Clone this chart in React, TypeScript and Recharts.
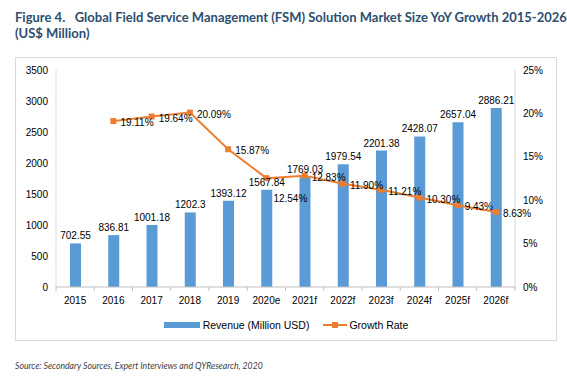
import React from 'react';
import { ComposedChart, Bar, Line, XAxis, YAxis, Legend, LabelList } from 'recharts';

const years = ['2015', '2016', '2017', '2018', '2019', '2020e', '2021f', '2022f', '2023f', '2024f', '2025f', '2026f'];
const revenue = [702.55, 836.81, 1001.18, 1202.3, 1393.12, 1567.84, 1769.03, 1979.54, 2201.38, 2428.07, 2657.04, 2886.21];
const growth = [null, 19.11, 19.64, 20.09, 15.87, 12.54, 12.83, 11.9, 11.21, 10.3, 9.43, 8.63];
const leftTicks = [0, 500, 1000, 1500, 2000, 2500, 3000, 3500];
const rightTicks = [0, 5, 10, 15, 20, 25];

const data = years.map((year, i) => ({ year, revenue: revenue[i], growth: growth[i] }));

const BLUE = '#5b9bd5';
const ORANGE = '#ed7d31';
const FONT = '"Liberation Sans", Arial, sans-serif';

function XTick(props: any) {
  const { x, y, payload, index, visibleTicksCount } = props;
  const half = payload.offset || 0;
  return (
    <g>
      <line x1={x - half} x2={x - half} y1={y - 8} y2={y - 4} stroke="#bfbfbf" />
      {index === visibleTicksCount - 1 && (
        <line x1={x + half} x2={x + half} y1={y - 8} y2={y - 4} stroke="#bfbfbf" />
      )}
      <text x={x} y={y + 9} textAnchor="middle" fontSize={10} fill="#000" fontFamily={FONT}>
        {payload.value}
      </text>
    </g>
  );
}

function SquareDot(props: any) {
  const { cx, cy, value } = props;
  if (value == null || cx == null || cy == null) return null;
  return <rect x={cx - 3} y={cy - 3} width={6} height={6} fill={ORANGE} />;
}

function GrowthLabel(props: any) {
  const { x, y, value, index } = props;
  if (value == null) return null;
  // 2020e label sits below its point in the source chart
  const below = years[index] === '2020e';
  return (
    <text x={x + 7} y={y + (below ? 24 : 5)} fontSize={10} fill="#000" fontFamily={FONT}>
      {value.toFixed(2)}%
    </text>
  );
}

function LegendContent() {
  return (
    <div
      style={{
        display: 'flex',
        justifyContent: 'center',
        alignItems: 'center',
        marginTop: 6,
        fontFamily: FONT,
        fontSize: 10.5,
        color: '#000',
      }}
    >
      <span style={{ display: 'inline-block', width: 36, height: 6, background: BLUE, marginRight: 3 }} />
      <span>Revenue (Million USD)</span>
      <svg width={24} height={10} style={{ marginLeft: 14, marginRight: 2 }}>
        <line x1={0} x2={24} y1={5} y2={5} stroke={ORANGE} strokeWidth={2} />
        <rect x={9} y={2} width={6} height={6} fill={ORANGE} />
      </svg>
      <span>Growth Rate</span>
    </div>
  );
}

export default function App() {
  return (
    <div style={{ position: 'absolute', left: 0, top: 0, width: 567, height: 377, background: '#fff', fontFamily: FONT }}>
      <div
        style={{
          position: 'absolute',
          left: 15,
          top: 9,
          width: 545,
          fontFamily: 'Lato, sans-serif',
          fontWeight: 700,
          fontSize: 13,
          lineHeight: '16px',
          color: '#2d4e6e',
          whiteSpace: 'pre',
        }}
      >
        {'Figure 4.   Global Field Service Management (FSM) Solution Market Size YoY Growth 2015-2026\n(US$ Million)'}
      </div>
      <div
        style={{
          position: 'absolute',
          left: 15,
          top: 57,
          width: 542,
          height: 284,
          border: '1px solid #d9d9d9',
          boxSizing: 'border-box',
        }}
      >
        <ComposedChart width={540} height={282} data={data} margin={{ top: 12, right: 0, bottom: 0, left: 0 }}>
          <XAxis
            dataKey="year"
            axisLine={{ stroke: '#bfbfbf' }}
            tickLine={false}
            tick={<XTick />}
            interval={0}
            height={26}
          />
          <YAxis
            yAxisId="left"
            domain={[0, 3500]}
            ticks={leftTicks}
            width={40}
            axisLine={{ stroke: '#d9d9d9' }}
            tickLine={false}
            tick={{ fontSize: 10, fill: '#000', fontFamily: FONT }}
          />
          <YAxis
            yAxisId="right"
            orientation="right"
            domain={[0, 25]}
            ticks={rightTicks}
            tickFormatter={(v) => `${v}%`}
            width={41}
            axisLine={{ stroke: '#d9d9d9' }}
            tickLine={false}
            tickMargin={2}
            tick={{ fontSize: 10, fill: '#000', fontFamily: FONT }}
          />
          <Legend verticalAlign="bottom" height={27} content={<LegendContent />} />
          <Bar yAxisId="left" dataKey="revenue" fill={BLUE} barSize={11} isAnimationActive={false}>
            <LabelList dataKey="revenue" position="top" offset={4} fontSize={10} fill="#000" fontFamily={FONT} />
          </Bar>
          <Line
            yAxisId="right"
            dataKey="growth"
            stroke={ORANGE}
            strokeWidth={2}
            dot={<SquareDot />}
            activeDot={false}
            isAnimationActive={false}
          >
            <LabelList dataKey="growth" content={<GrowthLabel />} />
          </Line>
        </ComposedChart>
      </div>
      <div
        style={{
          position: 'absolute',
          left: 15,
          top: 360,
          fontSize: 8.7,
          fontStyle: 'italic',
          color: '#404040',
          fontFamily: 'Lato, sans-serif',
        }}
      >
        Source: Secondary Sources, Expert Interviews and QYResearch, 2020
      </div>
    </div>
  );
}
